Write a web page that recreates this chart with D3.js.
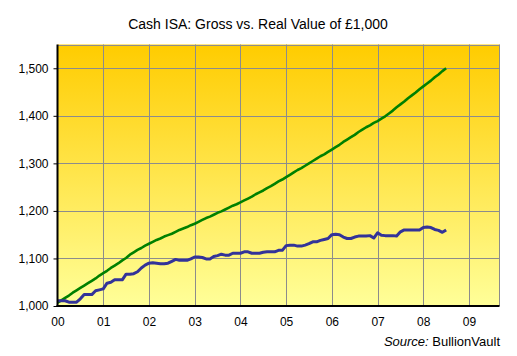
<!DOCTYPE html>
<html>
<head>
<meta charset="utf-8">
<script src="https://cdn.jsdelivr.net/npm/d3@7"></script>
<style>
  html, body { margin: 0; padding: 0; background: #ffffff; }
  svg { display: block; }
  text { font-family: "Liberation Sans", Arial, sans-serif; fill: #000; }
</style>
</head>
<body>
<svg id="chart" width="517" height="356"></svg>
<script>
// ---- Data (monthly, Jan 2000 = month 0) ----
const title = "Cash ISA: Gross vs. Real Value of £1,000";
const yearLabels = ["00","01","02","03","04","05","06","07","08","09"];
const yTicks = [1000, 1100, 1200, 1300, 1400, 1500];
const grossValue = [
  1007,1012,1017,1022,1028,1033,1038,1043,1048,1053,1058,1064,
  1069,1074,1080,1085,1090,1096,1101,1108,1113,1118,1122,1127,
  1131,1135,1139,1142,1146,1149,1152,1156,1160,1163,1166,1170,
  1173,1177,1181,1185,1188,1192,1196,1199,1203,1207,1211,1214,
  1218,1222,1226,1230,1235,1239,1243,1248,1252,1257,1262,1266,
  1271,1276,1281,1286,1290,1295,1300,1305,1310,1315,1319,1324,
  1329,1334,1339,1345,1350,1355,1360,1366,1371,1376,1380,1385,
  1389,1394,1399,1405,1411,1418,1424,1430,1437,1443,1449,1456,
  1462,1468,1474,1481,1487,1494,1500
];
const realValue = [
  1011,1011,1011,1008,1008,1008,1015,1024,1024,1024,1032,1034,
  1036,1048,1050,1055,1055,1055,1067,1067,1068,1072,1080,1086,
  1090,1091,1090,1089,1089,1090,1094,1098,1096,1096,1096,1099,
  1103,1103,1102,1099,1099,1104,1106,1109,1107,1107,1111,1111,
  1111,1114,1114,1111,1111,1111,1113,1114,1114,1114,1117,1117,
  1127,1128,1128,1126,1126,1128,1131,1135,1135,1138,1140,1142,
  1150,1151,1150,1145,1142,1142,1145,1147,1147,1147,1148,1143,
  1154,1149,1148,1148,1148,1147,1156,1160,1160,1160,1160,1160,
  1165,1166,1165,1161,1159,1155,1160
];
const sourceLabel = "Source:";
const sourceName = "BullionVault";

// ---- Layout ----
const svg = d3.select("#chart");
const L = 57.5, R = 499.5, T = 44.5, B = 306;
const monthsTotal = 116; // Jan 2000 .. Sep 2009

const x = d3.scaleLinear().domain([0, monthsTotal]).range([L, R]);
const y = d3.scaleLinear().domain([1000, 1550]).range([B, T]);

// background gradient
const defs = svg.append("defs");
const grad = defs.append("linearGradient").attr("id", "bg")
  .attr("x1", 0).attr("y1", 0).attr("x2", 0).attr("y2", 1);
grad.append("stop").attr("offset", "0%").attr("stop-color", "#FFCC00");
grad.append("stop").attr("offset", "100%").attr("stop-color", "#FFFF99");

svg.append("rect")
  .attr("x", L).attr("y", T).attr("width", R - L).attr("height", B - T)
  .attr("fill", "url(#bg)");

// gridlines
const yearTicks = yearLabels.map((d, i) => i * 12);
const grid = svg.append("g");
grid.selectAll("line.v").data(yearTicks.slice(1)).join("line")
  .attr("x1", d => Math.round(x(d)) + 0.5).attr("x2", d => Math.round(x(d)) + 0.5)
  .attr("y1", T).attr("y2", B)
  .attr("stroke", "#8c8c8c").attr("stroke-width", 1);
grid.selectAll("line.h").data(yTicks.slice(1).concat([1550])).join("line")
  .attr("x1", L).attr("x2", R)
  .attr("y1", d => Math.round(y(d)) + 0.5).attr("y2", d => Math.round(y(d)) + 0.5)
  .attr("stroke", "#8c8c8c").attr("stroke-width", 1);
// right border
svg.append("line").attr("x1", R).attr("x2", R).attr("y1", T).attr("y2", B)
  .attr("stroke", "#8c8c8c").attr("stroke-width", 1);

// lines
const line = d3.line().x((d, i) => x(i)).y(d => y(d));
svg.append("path").datum(grossValue)
  .attr("d", line).attr("fill", "none")
  .attr("stroke", "#008000").attr("stroke-width", 2.6)
  .attr("stroke-linejoin", "round");
svg.append("path").datum(realValue)
  .attr("d", line).attr("fill", "none")
  .attr("stroke", "#333399").attr("stroke-width", 3)
  .attr("stroke-linejoin", "round");

// axes
const yAxis = d3.axisLeft(y).tickValues(yTicks).tickSize(4).tickPadding(5)
  .tickFormat(d3.format(","));
const gy = svg.append("g").attr("transform", `translate(${L},0)`).call(yAxis);
const xAxis = d3.axisBottom(x).tickValues(yearTicks).tickSize(0).tickPadding(11)
  .tickFormat((d, i) => yearLabels[i]);
const gx = svg.append("g").attr("transform", `translate(0,${B})`).call(xAxis);
[gy, gx].forEach(g => {
  g.select(".domain").attr("stroke", "#000").attr("stroke-width", 2);
  g.selectAll(".tick line").attr("stroke", "#000");
  g.selectAll("text").attr("font-size", 12)
    .attr("font-family", "'Liberation Sans', Arial, sans-serif");
});
gy.select(".domain").attr("d", `M0,${T}V${B + 1}`);
gx.select(".domain").attr("d", `M${L - 1},0H${R}`);

// title
svg.append("text").attr("x", 258).attr("y", 29)
  .attr("text-anchor", "middle").attr("font-size", 14).text(title);

// source
const src = svg.append("text").attr("x", 500).attr("y", 346)
  .attr("text-anchor", "end").attr("font-size", 13);
src.append("tspan").attr("font-style", "italic").text(sourceLabel + " ");
src.append("tspan").text(sourceName);
</script>
</body>
</html>
